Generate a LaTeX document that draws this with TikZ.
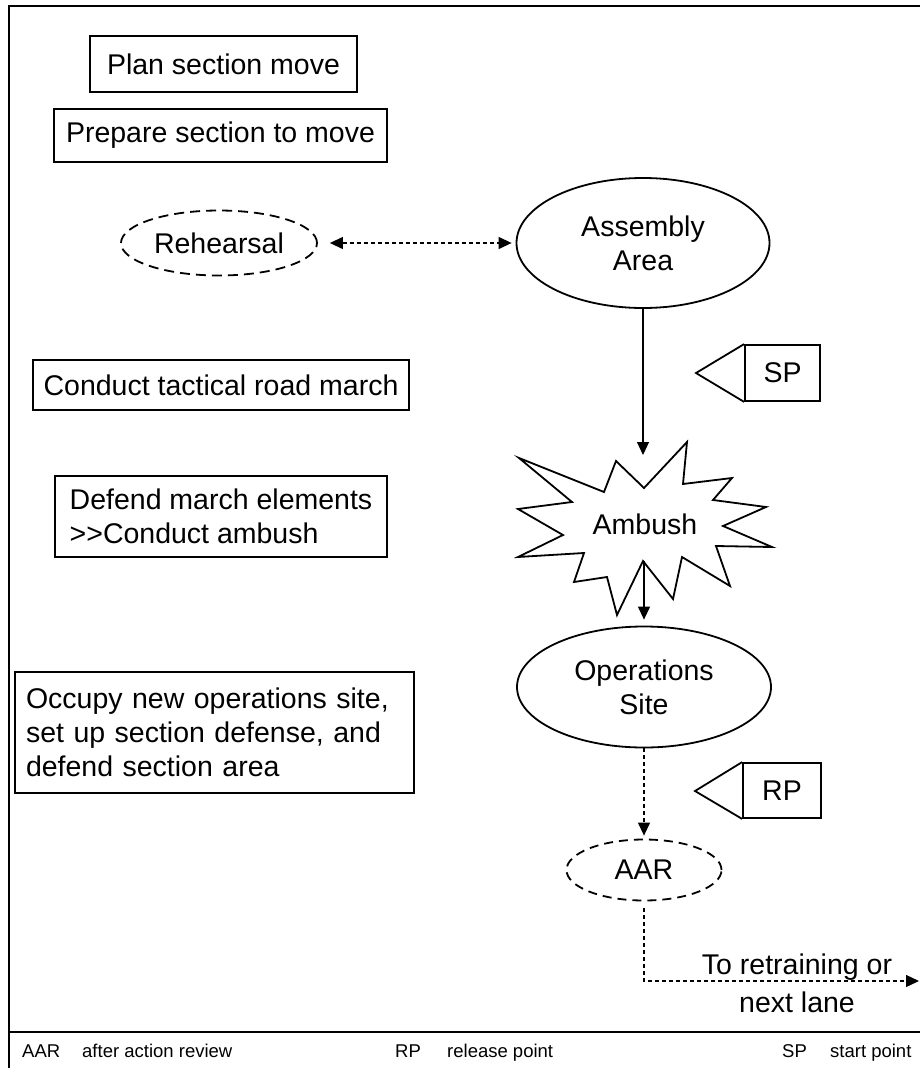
\documentclass[tikz,border=0pt]{standalone}
\usepackage{fontspec}
\setmainfont{Liberation Sans}
\usetikzlibrary{shapes.geometric,arrows.meta}
\begin{document}
\begin{tikzpicture}[x=1pt,y=-1pt,
 every node/.style={font=\fontsize{28.5}{34}\selectfont},
 box/.style={draw,line width=1.8pt,rectangle,align=left,inner ysep=0pt},
 ell/.style={draw,ellipse,line width=1.8pt,inner sep=0pt,align=center},
 dashell/.style={ell,dash pattern=on 10pt off 6pt},
 arr/.style={line width=1.2pt,-{Triangle[length=13pt,width=12pt]}},
 dotarr/.style={arr,dash pattern=on 4pt off 3pt},
 flagbox/.style={draw,line width=1.8pt,inner sep=0pt},
 legend/.style={font=\fontsize{18.5}{22}\selectfont,anchor=base west,inner sep=0pt},
 frame/.style={line width=2.5pt}
]
\useasboundingbox (0,0) rectangle (920,1068);
% frame
\coordinate (ftl) at (9,6);
\coordinate (ftr) at (920,6);
\coordinate (fbl) at (9,1068);
\coordinate (fsl) at (9,1032);
\coordinate (fsr) at (920,1032);
\draw[frame] (ftr) -- (ftl) -- (fbl);
\draw[frame] (fsl) -- (fsr);

% left boxes
\node[box,minimum width=267pt,minimum height=56pt] (plan) at (223.5,64) {Plan section move};
\node[box,minimum width=333pt,minimum height=53pt] (prep) at (220.5,135.5) {Prepare section to move};
\node[box,minimum width=376pt,minimum height=50pt] (march) at (221,385) {Conduct tactical road march};
\node[box,minimum width=332pt,minimum height=81pt] (defend) at (221,516.5) {Defend march elements\\{>}{>}Conduct ambush};
\node[box,minimum width=399pt,minimum height=121pt,text width=377pt,inner xsep=11pt] (occupy) at (214.5,732.5) {Occupy new operations site,\\set up section defense, and\\defend section area};

% flow
\node[dashell,minimum width=196pt,minimum height=65pt] (reh) at (219,243) {Rehearsal};
\node[ell,minimum width=253pt,minimum height=130pt] (aa) at (643,243) {Assembly\\Area};
\draw[dotarr,{Triangle[length=13pt,width=12pt]}-{Triangle[length=13pt,width=12pt]},shorten <=12pt,shorten >=4pt] (reh.east) -- (aa.west);

% SP flag
\node[flagbox,minimum width=75pt,minimum height=56pt] (sp) at (782.5,373) {SP};
\coordinate (sptip) at (696,373);
\draw[line width=1.8pt,line join=miter] (sp.north west) -- (sptip) -- (sp.south west);

% Ambush star
\draw[line width=1.8pt,line join=miter] (519,458) -- (604,492) -- (616,461) -- (644,488) -- (687,442) -- (683,484) -- (732,478) -- (713,500) -- (766,507) -- (723,526) -- (772,547) -- (716,546) -- (730,586) -- (682,557) -- (673,599) -- (643,561) -- (617,615) -- (607,577) -- (574,582) -- (584,553) -- (518,557) -- (563,535) -- (518,509) -- (572,502) -- cycle;
\node (amb) at (645,524) {Ambush};
\coordinate (ambtop) at (643,455);
\coordinate (ambbot) at (644,561);
\draw[arr] (aa.south) -- (ambtop);

\node[ell,minimum width=254pt,minimum height=121pt] (ops) at (644,687) {Operations\\Site};
\draw[arr,shorten >=6pt] (ambbot) -- (ops.north);

% RP flag
\node[flagbox,minimum width=78pt,minimum height=55pt] (rp) at (782,790.5) {RP};
\coordinate (rptip) at (695,791);
\draw[line width=1.8pt,line join=miter] (rp.north west) -- (rptip) -- (rp.south west);

\node[dashell,minimum width=155pt,minimum height=61pt,dash pattern=on 9pt off 6pt] (aar) at (644,870) {AAR};
\draw[dotarr,shorten >=3pt] (ops.south) -- (aar.north);

\coordinate (exit) at (919,981);
\draw[dotarr,shorten <=7pt] (aar.south) |- (exit);
\node[align=center] (retrain) at (797,983) {To retraining or\\[4pt]next lane};

% legend
\node[legend] (l1) at (22,1057) {AAR};
\node[legend] (l2) at (82,1057) {after action review};
\node[legend] (l3) at (395,1057) {RP};
\node[legend] (l4) at (447,1057) {release point};
\node[legend] (l5) at (782,1057) {SP};
\node[legend] (l6) at (830,1057) {start point};
\end{tikzpicture}
\end{document}
